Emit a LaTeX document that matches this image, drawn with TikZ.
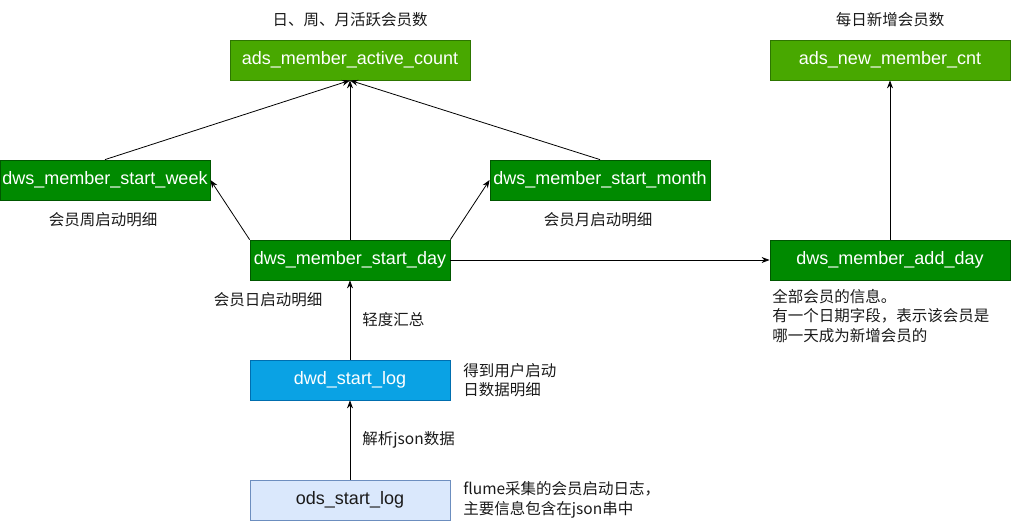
\documentclass[tikz,border=0pt]{standalone}
\usepackage{fontspec}
\setmainfont{Liberation Sans}
\newfontfamily\cjk{Noto Sans CJK SC}
\usetikzlibrary{arrows.meta}

\definecolor{adsfill}{RGB}{72,168,0}
\definecolor{adsline}{RGB}{45,118,0}
\definecolor{dwsfill}{RGB}{0,138,0}
\definecolor{dwsline}{RGB}{0,87,0}
\definecolor{dwdfill}{RGB}{10,162,228}
\definecolor{dwdline}{RGB}{0,110,175}
\definecolor{odsfill}{RGB}{218,232,252}
\definecolor{odsline}{RGB}{108,142,191}
\definecolor{ink}{RGB}{26,26,26}

\tikzset{
  tbl/.style={rectangle, line width=0.8pt, inner sep=0pt, minimum height=40pt,
    font=\fontsize{18}{21}\selectfont, text=white},
  adsbox/.style={tbl, fill=adsfill, draw=adsline, minimum width=240pt},
  dwsbox/.style={tbl, fill=dwsfill, draw=dwsline},
  dwdbox/.style={tbl, fill=dwdfill, draw=dwdline, minimum width=200pt},
  odsbox/.style={tbl, fill=odsfill, draw=odsline, minimum width=200pt, text=ink},
  note/.style={inner sep=0pt, align=left, text=ink,
    font=\cjk\fontsize{15.5}{19.5}\selectfont},
}

\begin{document}
\begin{tikzpicture}[x=1pt, y=-1pt, >={Stealth[length=8pt,width=6pt]}, line width=0.8pt]

\useasboundingbox (0,0) rectangle (1011,521);

% ads layer
\node[adsbox] (active) at (350,60) {ads\_member\_active\_count};
\node[adsbox] (newcnt) at (890,60) {ads\_new\_member\_cnt};
\node[note] (activetxt) at (350,20) {日、周、月活跃会员数};
\node[note] (newtxt) at (890,20) {每日新增会员数};

% dws layer
\node[dwsbox, minimum width=210pt] (week) at (105,180) {dws\_member\_start\_week};
\node[dwsbox, minimum width=220pt] (month) at (600,180) {dws\_member\_start\_month};
\node[dwsbox, minimum width=200pt] (day) at (350,260) {dws\_member\_start\_day};
\node[dwsbox, minimum width=240pt] (addday) at (890,260) {dws\_member\_add\_day};

\node[note] (weektxt) at (103,220) {会员周启动明细};
\node[note] (monthtxt) at (598,220) {会员月启动明细};
\node[note] (daytxt) at (268,300) {会员日启动明细};
\node[note, anchor=west] (addtxt) at (772,316) {全部会员的信息。\\有一个日期字段，表示该会员是\\哪一天成为新增会员的};

% dwd / ods layer
\node[dwdbox] (dwd) at (350,380) {dwd\_start\_log};
\node[odsbox] (ods) at (350,500) {ods\_start\_log};
\node[note, anchor=west] (dwdtxt) at (463,380) {得到用户启动\\日数据明细};
\node[note, anchor=west] (odstxt) at (463,500) {flume采集的会员启动日志，\\主要信息包含在json串中};

\draw[->] (ods.north) -- node[note, right=12pt] {解析json数据} (dwd.south);
\draw[->] (dwd.north) -- node[note, right=12pt] {轻度汇总} (day.south);

\draw[->] (day.north west) -- (week.east);
\draw[->] (day.north east) -- (month.west);
\draw[->] (day.east) -- (addday.west);

\draw[->] (week.north) -- (active.south);
\draw[->] (day.north) -- (active.south);
\draw[->] (month.north) -- (active.south);
\draw[->] (addday.north) -- (newcnt.south);

\end{tikzpicture}
\end{document}
